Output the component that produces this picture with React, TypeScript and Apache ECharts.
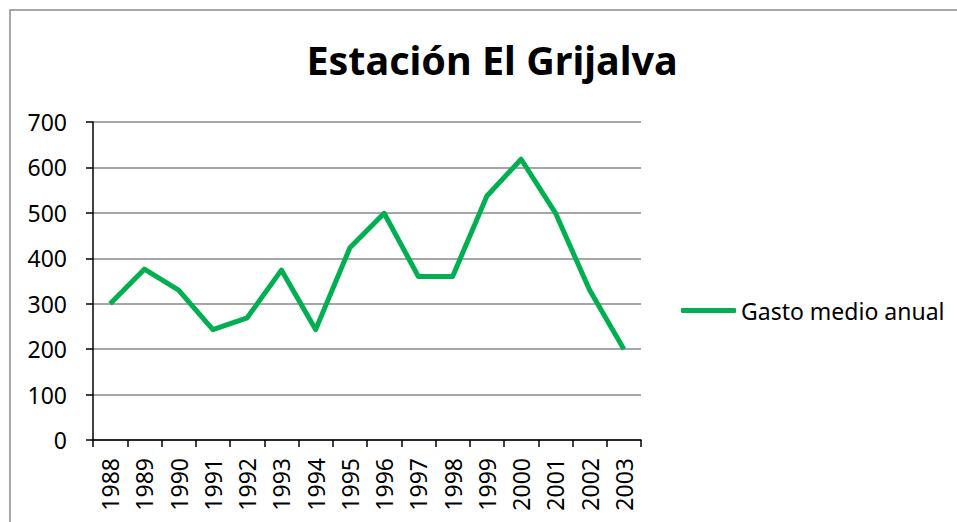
import React, { useEffect, useRef } from "react";
import * as echarts from "echarts";

const years = ["1988","1989","1990","1991","1992","1993","1994","1995","1996","1997","1998","1999","2000","2001","2002","2003"];
const gastoMedioAnual = [300, 376, 330, 243, 269, 374, 243, 423, 499, 360, 360, 537, 618, 500, 330, 200];
const seriesName = "Gasto medio anual";
const chartTitle = "Estación El Grijalva";

const FONT = "'Noto Sans', sans-serif";

export default function App() {
  const ref = useRef<HTMLDivElement>(null);
  useEffect(() => {
    if (!ref.current) return;
    const chart = echarts.init(ref.current, undefined, { renderer: "svg" });
    chart.setOption({
      animation: false,
      backgroundColor: "#ffffff",
      title: {
        text: chartTitle,
        left: 492,
        textAlign: "center",
        top: 40,
        padding: 0,
        textStyle: { fontFamily: FONT, fontWeight: "bold", fontSize: 39.5, color: "#000" },
      },
      graphic: [
        {
          type: "rect",
          shape: { x: 10, y: 10, width: 1000, height: 600 },
          style: { fill: "none", stroke: "#8a8a8a", lineWidth: 1.5 },
          silent: true,
        },
      ],
      legend: {
        data: [seriesName],
        left: 681,
        top: 299,
        padding: 0,
        itemWidth: 55,
        itemHeight: 5,
        icon: "roundRect",
        textStyle: { fontFamily: FONT, fontSize: 23, color: "#000" },
      },
      grid: { left: 93, right: 316, top: 122, bottom: 82 },
      xAxis: {
        type: "category",
        data: years,
        boundaryGap: true,
        axisLine: { lineStyle: { color: "#000", width: 1.5 } },
        axisTick: { show: true, length: 7, alignWithLabel: false, lineStyle: { color: "#000", width: 1.5 } },
        axisLabel: {
          rotate: 90,
          margin: 18,
          interval: 0,
          fontFamily: FONT,
          fontSize: 23,
          color: "#000",
        },
      },
      yAxis: {
        type: "value",
        min: 0,
        max: 700,
        interval: 100,
        axisLine: { show: true, lineStyle: { color: "#000", width: 1.5 } },
        axisTick: { show: true, length: 7, lineStyle: { color: "#000", width: 1.5 } },
        splitLine: { lineStyle: { color: "#898989", width: 1.5 } },
        axisLabel: { margin: 26, fontFamily: FONT, fontSize: 23, color: "#000" },
      },
      series: [
        {
          name: seriesName,
          type: "line",
          data: gastoMedioAnual,
          symbol: "none",
          lineStyle: { color: "#00B050", width: 5, join: "round" },
          itemStyle: { color: "#00B050" },
        },
      ],
    });
    return () => chart.dispose();
  }, []);
  return (
    <div
      ref={ref}
      style={{ position: "absolute", left: 0, top: 0, width: 957, height: 522 }}
    />
  );
}
